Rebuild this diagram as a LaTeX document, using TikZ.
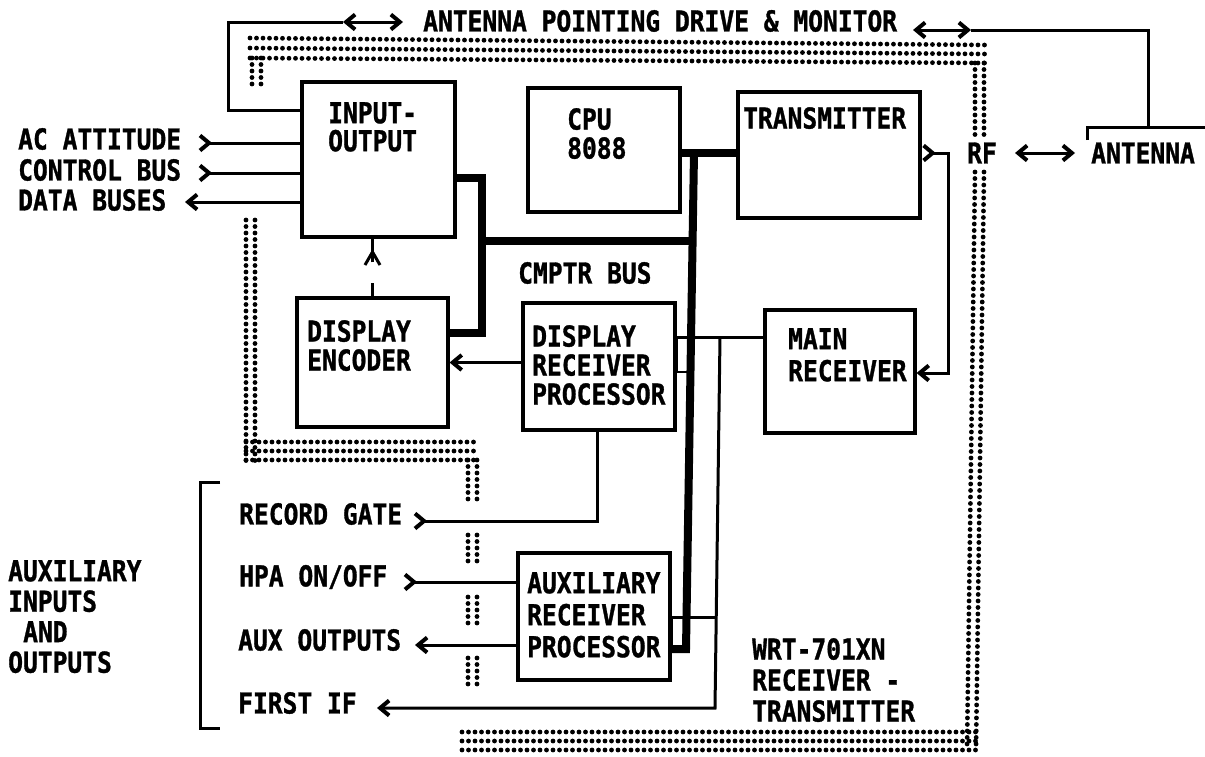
\documentclass[tikz,border=0pt]{standalone}
\usepackage{fontspec}
\setmainfont{DejaVu Sans Mono}[BoldFeatures={FakeBold=1.2}]
\usetikzlibrary{arrows.meta}
\newcommand\tall[1]{\scalebox{1}[1.17]{#1}}
\begin{document}
\begin{tikzpicture}[x=1pt,y=-1pt,
  >={Straight Barb[length=9pt,width=15pt,line width=1pt 1]},
  boxst/.style={draw,line width=3.2pt,inner sep=0pt},
  wire/.style={line width=3pt,line join=miter},
  bus/.style={line width=8pt},
  txt/.style={inner sep=0pt,align=left,font=\bfseries\fontsize{24.6}{29}\selectfont},
  dots/.style={line width=4.8pt,line cap=round,dash pattern=on 0pt off 6.5pt}]
\useasboundingbox (0,0) rectangle (1205,756);

% ---------- enclosure (dot-matrix band) ----------
\foreach \ya/\yb in {38/45,48/54,58/63} \draw[dots] (250,\ya) -- (985,\yb);
\foreach \xx in {252,261} \draw[dots] (\xx,58) -- (\xx,90);
\foreach \xa/\xb in {975/967,984/976} {
  \draw[dots] (\xa,63) -- (\xa,137);
  \draw[dots] (\xa,172) -- (\xb,750);}
\foreach \yy in {732,741,750} \draw[dots] (462,\yy) -- (976,\yy);
\foreach \xx in {246,255} \draw[dots] (\xx,220) -- (\xx,461);
\foreach \yy in {442,451,460} \draw[dots] (246,\yy) -- (480,\yy);
\foreach \xx in {468,477} {
  \draw[dots] (\xx,460) -- (\xx,500);
  \draw[dots] (\xx,535) -- (\xx,562);
  \draw[dots] (\xx,597) -- (\xx,625);
  \draw[dots] (\xx,658) -- (\xx,688);}

% ---------- boxes ----------
\node[boxst,minimum width=153pt,minimum height=155pt] (IO)  at (378.5,159.5) {};
\node[boxst,minimum width=152pt,minimum height=124pt] (CPU) at (604,150) {};
\node[boxst,minimum width=182pt,minimum height=126pt] (TX)  at (829,155) {};
\node[boxst,minimum width=151pt,minimum height=129pt] (DE)  at (372.5,362.5) {};
\node[boxst,minimum width=152pt,minimum height=127pt] (DRP) at (599,366.5) {};
\node[boxst,minimum width=150pt,minimum height=123pt] (MR)  at (840,371.5) {};
\node[boxst,minimum width=152pt,minimum height=127pt] (AUX) at (594,616.5) {};

% ---------- box texts ----------
\node[txt,anchor=north west,font=\bfseries\fontsize{24.6}{28}\selectfont] (IOt) at (328,102) {\tall{INPUT-}\\\tall{OUTPUT}};
\node[txt,anchor=north west] (CPUt) at (567,108) {\tall{CPU}\\\tall{8088}};
\node[txt,anchor=north west] (TXt) at (743,107) {\tall{TRANSMITTER}};
\node[txt,anchor=north west] (DEt) at (307,320) {\tall{DISPLAY}\\\tall{ENCODER}};
\node[txt,anchor=north west] (DRPt) at (532,325) {\tall{DISPLAY}\\\tall{RECEIVER}\\\tall{PROCESSOR}};
\node[txt,anchor=north west,font=\bfseries\fontsize{24.6}{32}\selectfont] (MRt) at (788,328) {\tall{MAIN}\\\tall{RECEIVER}};
\node[txt,anchor=north west,font=\bfseries\fontsize{24.6}{32}\selectfont] (AUXt) at (527,572) {\tall{AUXILIARY}\\\tall{RECEIVER}\\\tall{PROCESSOR}};

% ---------- free labels ----------
\node[txt,anchor=west] (APD) at (423,21) {\tall{ANTENNA POINTING DRIVE \& MONITOR}};
\node[txt,anchor=west] (ac) at (18,139) {\tall{AC ATTITUDE}};
\node[txt,anchor=west] (cb) at (18,170) {\tall{CONTROL BUS}};
\node[txt,anchor=west] (db) at (18,200) {\tall{DATA BUSES}};
\node[txt] (RF) at (982,153) {\tall{RF}};
\node[txt,anchor=west] (ANT) at (1091,153) {\tall{ANTENNA}};
\node[txt,anchor=west] (cmptr) at (518,273) {\tall{CMPTR BUS}};
\node[txt,anchor=west] (rg) at (239,514) {\tall{RECORD GATE}};
\node[txt,anchor=west] (hpa) at (239,577) {\tall{HPA ON/OFF}};
\node[txt,anchor=west] (ao) at (238,640) {\tall{AUX OUTPUTS}};
\node[txt,anchor=west] (fi) at (238,703) {\tall{FIRST IF}};
\node[txt,anchor=north west,font=\bfseries\fontsize{24.6}{30.5}\selectfont] (auxio) at (8,560)
  {\tall{AUXILIARY}\\\tall{INPUTS}\\\hspace*{15pt}\tall{AND}\\\tall{OUTPUTS}};
\node[txt,anchor=north west,font=\bfseries\fontsize{24.6}{31}\selectfont] (wrt) at (752,638)
  {\tall{WRT-701XN}\\\tall{RECEIVER -}\\\tall{TRANSMITTER}};

% ---------- coordinates ----------
\coordinate (apLow) at (228,110);
\coordinate (apTop) at (228,22);
\coordinate (apL) at (343,22);
\coordinate (apR) at (403,22);
\coordinate (apL2) at (913,30);
\coordinate (apR2) at (971,30);
\coordinate (antTop) at (1148,30);
\coordinate (antBL) at (1087,140);
\coordinate (antTR) at (1205,127);
\coordinate (rfA) at (1015,153);
\coordinate (rfB) at (1075,153);
\coordinate (acS) at (198,143);
\coordinate (cbS) at (198,173);
\coordinate (dbS) at (185,202);
\coordinate (b1) at (482,178);
\coordinate (b2) at (482,333);
\coordinate (b3) at (482,241);
\coordinate (b4) at (693,241);
\coordinate (b5) at (694,153);
\coordinate (b6) at (686,649);
\coordinate (txJ) at (948,153);
\coordinate (mrIn) at (948,373);
\coordinate (mrJ) at (720,337);
\coordinate (auxJ) at (716,617);
\coordinate (fiB) at (715,708);
\coordinate (fiS) at (377,708);
\coordinate (rgS) at (413,521);
\coordinate (rgC) at (597,521);
\coordinate (hpS) at (403,582);
\coordinate (aoS) at (415,645);

% ---------- antenna pointing loop ----------
\draw[wire] (apLow -| IO.west) -- (apLow) -- (apTop) -- (apL);
\draw[wire,<->] (apL) -- (apR);
\draw[wire,<->] (apL2) -- (apR2);
\draw[wire] (apR2) -- (antTop) -- (antTop |- antTR);
\draw[wire] (antBL) |- (antTR);
\draw[wire,<->] (rfA) -- (rfB);

% ---------- external inputs ----------
\draw[wire,>-] (acS) -- (acS -| IO.west);
\draw[wire,>-] (cbS) -- (cbS -| IO.west);
\draw[wire,<-] (dbS) -- (dbS -| IO.west);

% ---------- computer bus ----------
\draw[bus] (b1 -| IO.east) -- (b1) -- (b2) -- (b2 -| DE.east);
\draw[bus] (b3) -- (b4);
\draw[bus] (b5 -| CPU.east) -- (b5 -| TX.west);
\draw[bus] (b5) -- (b6) -- (b6 -| AUX.east);
\draw[line width=2.4pt] (DRP.east |- mrJ) rectangle (690,372);
\draw[line width=2.4pt] (AUX.east |- auxJ) rectangle (684,648);

% ---------- other connectors ----------
\draw[wire,>->] (txJ -| TX.east) -- (txJ) -- (mrIn) -- (mrIn -| MR.east);
\draw[wire] (DRP.east |- mrJ) -- (MR.west |- mrJ);
\draw[wire,->] (mrJ) -- (fiB) -- (fiS);
\draw[wire] (auxJ) -- (auxJ -| AUX.east);
\draw[wire,->] (DRP.west |- DE.east) -- (DE.east);
\draw[wire,dash pattern=on 13pt off 21pt on 60pt] (DE.north) -- (DE.north |- IO.south);
\draw[wire] (365,265) -- (372.5,252) -- (380,265);
\draw[wire,>-] (rgS) -- (rgC) -- (rgC |- DRP.south);
\draw[wire,>-] (hpS) -- (hpS -| AUX.west);
\draw[wire,<-] (aoS) -- (aoS -| AUX.west);

% ---------- bracket ----------
\draw[wire] (220,482) -- (200,482) -- (200,728) -- (220,728);
\end{tikzpicture}
\end{document}
